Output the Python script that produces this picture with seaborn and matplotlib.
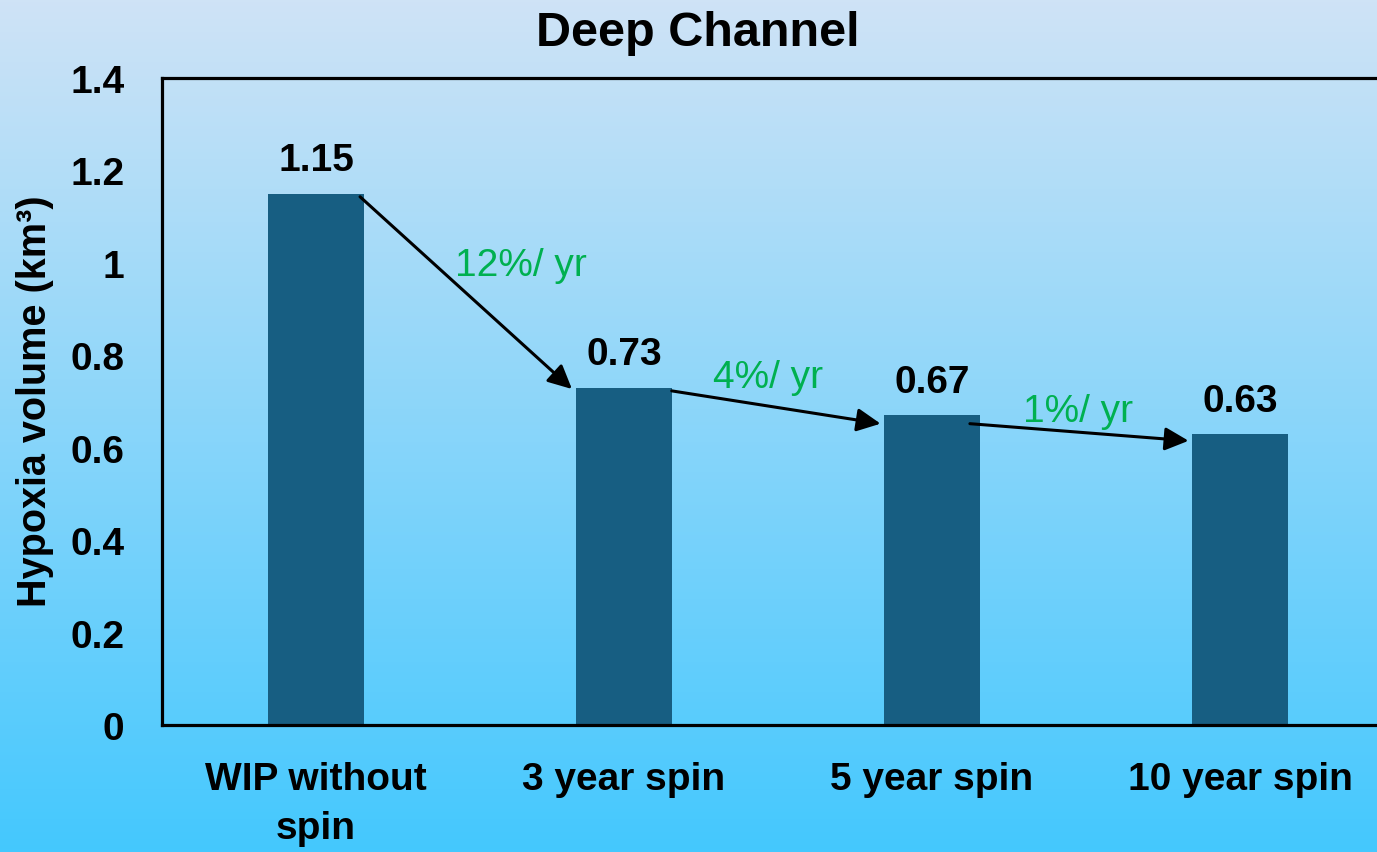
import numpy as np
import pandas as pd
import matplotlib
matplotlib.use("Agg")
import matplotlib.pyplot as plt
import seaborn as sns

categories = ["WIP without\nspin", "3 year spin", "5 year spin", "10 year spin"]
values = [1.15, 0.73, 0.67, 0.63]
value_labels = ["1.15", "0.73", "0.67", "0.63"]
rate_labels = ["12%/ yr", "4%/ yr", "1%/ yr"]
y_ticks = [0, 0.2, 0.4, 0.6, 0.8, 1.0, 1.2, 1.4]
y_tick_labels = ["0", "0.2", "0.4", "0.6", "0.8", "1", "1.2", "1.4"]
title = "Deep Channel"
ylabel = "Hypoxia volume (km\u00b3)"

sns.set_theme(style="white")
plt.rcParams["font.family"] = ["Liberation Sans", "DejaVu Sans"]

W, H = 1377, 853
fig = plt.figure(figsize=(W / 100, H / 100), dpi=100)

# gradient background
bg = fig.add_axes([0, 0, 1, 1], zorder=-10)
top = np.array([207, 227, 246]) / 255
bot = np.array([68, 200, 254]) / 255
t = np.linspace(0, 1, 256)[:, None]
grad = (top[None, :] * (1 - t) + bot[None, :] * t)[:, None, :]
bg.imshow(grad, aspect="auto", extent=[0, 1, 0, 1], origin="upper")
bg.set_axis_off()

bar_w = 0.31
ax = fig.add_axes([162 / W, 127 / H, 1232 / W, 647 / H])
ax.patch.set_alpha(0)
df = pd.DataFrame({"cat": categories, "val": values})
sns.barplot(data=df, x="cat", y="val", color="#175E82", saturation=1,
            width=bar_w, ax=ax, edgecolor="none")
ax.set_xlim(-0.5, 3.5)
ax.set_ylim(0, 1.4)
ax.set_yticks(y_ticks)
ax.set_yticklabels(y_tick_labels)
ax.set_xlabel("")
ax.set_ylabel("")
ax.tick_params(axis="both", length=0, labelsize=28)
ax.tick_params(axis="y", pad=27)
ax.tick_params(axis="x", pad=26)
for lab in ax.get_xticklabels() + ax.get_yticklabels():
    lab.set_fontweight("bold")
    lab.set_color("black")
for lab in ax.get_xticklabels():
    lab.set_linespacing(1.45)
for s in ["left", "top", "bottom", "right"]:
    ax.spines[s].set_visible(True)
    ax.spines[s].set_color("black")
    ax.spines[s].set_linewidth(2.3)

# value labels
for i, (v, lab) in enumerate(zip(values, value_labels)):
    ax.annotate(lab, (i, v), xytext=(0, 11), textcoords="offset points",
                ha="center", va="bottom", fontsize=28, fontweight="bold",
                color="black")

# arrows between bars
half = bar_w / 2
start_dx = [-0.012, 0.0, -0.032]
start_dy = [-0.007, -0.007, -0.018]
end_dx = [-0.014, -0.012, -0.012]
end_dy = [-0.003, -0.018, -0.015]
label_pos_dx = [0.666, 0.468, 0.474]
label_pos_dy = [0.995, 0.752, 0.68]
for i in range(len(values) - 1):
    x0 = i + half + start_dx[i]
    y0 = values[i] + start_dy[i]
    x1 = i + 1 - half + end_dx[i]
    y1 = values[i + 1] + end_dy[i]
    ax.annotate("", xy=(x1, y1), xytext=(x0, y0),
                arrowprops=dict(arrowstyle="-|>,head_length=0.45,head_width=0.22",
                                color="black", lw=2.2,
                                mutation_scale=32, shrinkA=0, shrinkB=0))
    ax.text(i + label_pos_dx[i], label_pos_dy[i], rate_labels[i],
            ha="center", va="center", fontsize=28, color="#00B050")

fig.text(698 / W, 1 - 33 / H, title, ha="center", va="center",
         fontsize=35, fontweight="bold", color="black")
fig.text(35 / W, 1 - 401 / H, ylabel, ha="center", va="center",
         rotation=90, fontsize=28.5, fontweight="bold", color="black")

fig.savefig("out.png", dpi=100)
